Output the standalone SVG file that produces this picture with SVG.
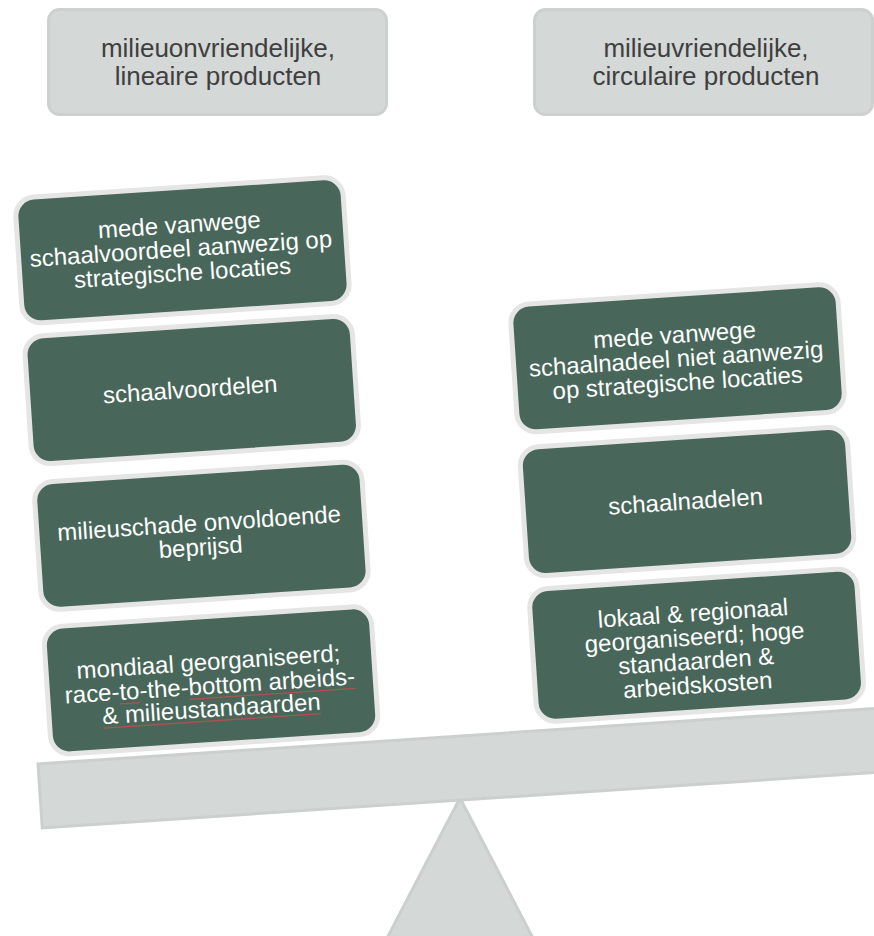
<svg xmlns="http://www.w3.org/2000/svg" width="874" height="936" viewBox="0 0 874 936">
<style>
.hdr{fill:#d4d8d7;stroke:#ccd0cf;stroke-width:3}
.htx{font-family:"Liberation Sans",Arial,sans-serif;font-size:26px;fill:#3f3f3f;text-anchor:middle}
.box{fill:#48675a;stroke:#e5e5e5;stroke-width:5}
.btx{font-family:"Liberation Sans",Arial,sans-serif;font-size:24px;fill:#ffffff;text-anchor:middle}
.gry{fill:#d4d8d6;stroke:#cbd0ce;stroke-width:3}
.spell{stroke:#c0504d;stroke-width:1.3;fill:none;opacity:0.85}
</style>
<rect width="874" height="936" fill="#ffffff"/>
<g id="fulcrum">
<polygon class="gry" points="460,798 385,942 535,942"/>
</g>
<g id="beam">
<rect class="gry" x="0" y="0" width="900" height="64" transform="translate(38,764) rotate(-3.8)"/>
</g>
<g id="header-left">
<rect class="hdr" x="48.5" y="9.5" width="338" height="105" rx="11"/>
<text class="htx" x="218" y="57">milieuonvriendelijke,</text>
<text class="htx" x="218" y="85">lineaire producten</text>
</g>
<g id="header-right">
<rect class="hdr" x="534.5" y="9.5" width="338" height="105" rx="11"/>
<text class="htx" x="706" y="57">milieuvriendelijke,</text>
<text class="htx" x="706" y="85">circulaire producten</text>
</g>
<g id="left-stack" transform="translate(12,196) rotate(-3.8)">
<g id="left-1">
<rect class="box" x="2.5" y="2.5" width="328" height="126" rx="19"/>
<text class="btx" x="165" y="48">mede vanwege</text>
<text class="btx" x="165" y="72">schaalvoordeel aanwezig op</text>
<text class="btx" x="165" y="96">strategische locaties</text>
</g>
<g id="left-2">
<rect class="box" x="2.5" y="141.5" width="328" height="128" rx="19"/>
<text class="btx" x="165" y="213">schaalvoordelen</text>
</g>
<g id="left-3">
<rect class="box" x="2.5" y="287.5" width="328" height="128" rx="19"/>
<text class="btx" x="165" y="347">milieuschade onvoldoende</text>
<text class="btx" x="165" y="371">beprijsd</text>
</g>
<g id="left-4">
<rect class="box" x="2.5" y="432.5" width="328" height="128" rx="19"/>
<text class="btx" x="165" y="486">mondiaal georganiseerd;</text>
<text class="btx" x="165" y="510">race-to-the-bottom arbeids-</text>
<text class="btx" x="165" y="533">&amp; milieustandaarden</text>
<path class="spell" d="M74,514 L94,514 M144,514 L310,514 M56,537 L274,537"/>
</g>
</g>
<g id="right-stack" transform="translate(507,303) rotate(-3.8)">
<g id="right-1">
<rect class="box" x="2.5" y="2.5" width="328" height="128" rx="19"/>
<text class="btx" x="165" y="51">mede vanwege</text>
<text class="btx" x="165" y="75">schaalnadeel niet aanwezig</text>
<text class="btx" x="165" y="99">op strategische locaties</text>
</g>
<g id="right-2">
<rect class="box" x="2.5" y="145.5" width="328" height="129" rx="19"/>
<text class="btx" x="165" y="218">schaalnadelen</text>
</g>
<g id="right-3">
<rect class="box" x="2.5" y="287.5" width="328" height="133" rx="19"/>
<text class="btx" x="165" y="330">lokaal &amp; regionaal</text>
<text class="btx" x="165" y="354">georganiseerd; hoge</text>
<text class="btx" x="165" y="378">standaarden &amp;</text>
<text class="btx" x="165" y="402">arbeidskosten</text>
</g>
</g>
</svg>
